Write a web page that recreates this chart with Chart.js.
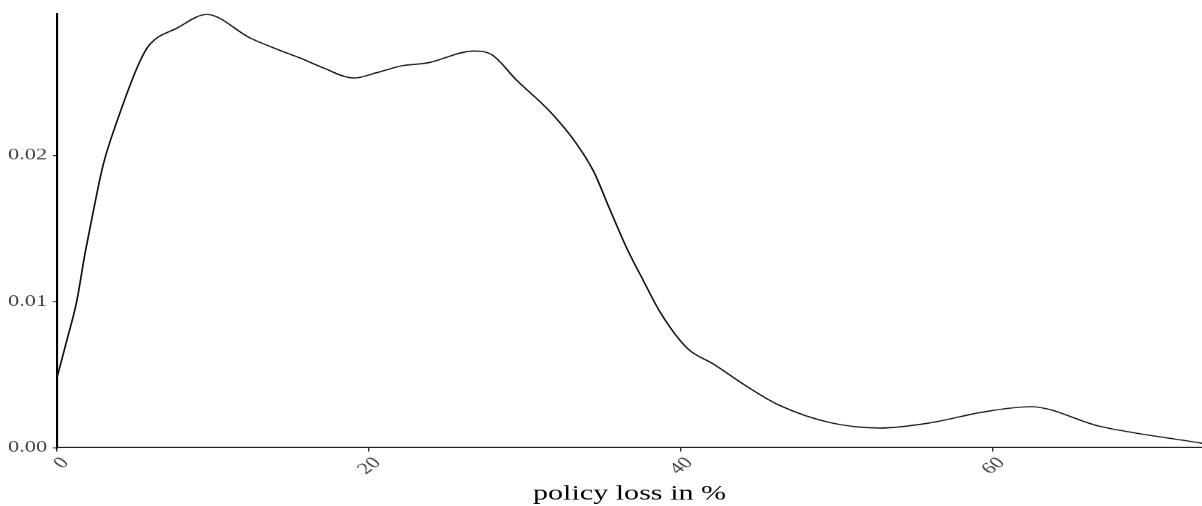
<!DOCTYPE html>
<html><head><meta charset="utf-8">
<script src="https://cdn.jsdelivr.net/npm/chart.js@4"></script>
<style>html,body{margin:0;padding:0;background:#fff;overflow:hidden}</style>
</head><body>
<canvas id="c" width="858" height="506" style="width:1202px;height:506px;display:block"></canvas>
<script>
// policy loss (%) and estimated density values
const lossX = [0, 0.62, 1.26, 1.79, 2.33, 2.97, 3.85, 5.32, 5.96, 7.67, 9.6, 12.4, 14.5, 15.6, 17.05, 19.0, 20.5, 22.0, 23.7, 26.7, 27.8, 29.5, 31.6, 33.3, 34.4, 35.4, 36.5, 37.6, 38.7, 40.4, 42.1, 44.2, 46.3, 49.6, 52.8, 56.0, 59.2, 62.4, 66.9, 73.4];
const density = [0.0048, 0.0073, 0.0100, 0.01326, 0.0162, 0.0194, 0.02235, 0.02645, 0.02761, 0.0287, 0.02964, 0.02802, 0.0271, 0.02666, 0.0260, 0.02529, 0.02566, 0.02611, 0.02632, 0.02714, 0.02693, 0.0251, 0.0230, 0.0208, 0.0189, 0.0164, 0.0137, 0.0114, 0.0092, 0.0068, 0.0057, 0.0042, 0.0029, 0.0017, 0.00134, 0.0017, 0.0024, 0.0028, 0.00144, 0.0003];
const xTickValues = [0, 20, 40, 60];
const yTickValues = [0, 0.01, 0.02];
const xTitle = 'policy loss in %';

const STRETCH = 1.401; // reference is horizontally stretched
const serif = "'Liberation Serif', 'Times New Roman', serif";

new Chart(document.getElementById('c'), {
  type: 'line',
  data: {
    datasets: [{
      data: lossX.map((x, i) => ({x: x, y: density[i]})),
      borderColor: '#111',
      borderWidth: 1.2,
      pointRadius: 0,
      fill: false,
      cubicInterpolationMode: 'monotone'
    }]
  },
  options: {
    responsive: false,
    animation: false,
    devicePixelRatio: STRETCH,
    layout: {padding: {top: 13, right: 0, left: 0, bottom: 0}},
    plugins: {legend: {display: false}, tooltip: {enabled: false}},
    scales: {
      x: {
        type: 'linear', min: 0, max: 73.4,
        afterBuildTicks: s => { s.ticks = xTickValues.map(v => ({value: v})); },
        afterFit: s => { s.height = 59; },
        grid: {display: true, drawOnChartArea: false, drawTicks: true, tickLength: 4, color: '#333', lineWidth: 1},
        border: {display: true, color: '#222', width: 1.5},
        ticks: {autoSkip: false, minRotation: 45, maxRotation: 45, padding: 2, labelOffset: 6, color: '#444',
          font: {family: serif, size: 16}, callback: v => String(v)},
        title: {display: true, text: xTitle, color: '#000', font: {family: serif, size: 21.5}, padding: {top: 0, bottom: 0}}
      },
      y: {
        type: 'linear', min: 0, max: 0.0297,
        afterBuildTicks: s => { s.ticks = yTickValues.map(v => ({value: v})); },
        afterFit: s => { s.width = 40.7; },
        grid: {display: true, drawOnChartArea: false, drawTicks: true, tickLength: 3, color: '#333', lineWidth: 1},
        border: {display: true, color: '#000', width: 1.5},
        ticks: {padding: 4, color: '#444', font: {family: serif, size: 16}, callback: v => v.toFixed(2)}
      }
    }
  }
});
</script>
</body></html>
